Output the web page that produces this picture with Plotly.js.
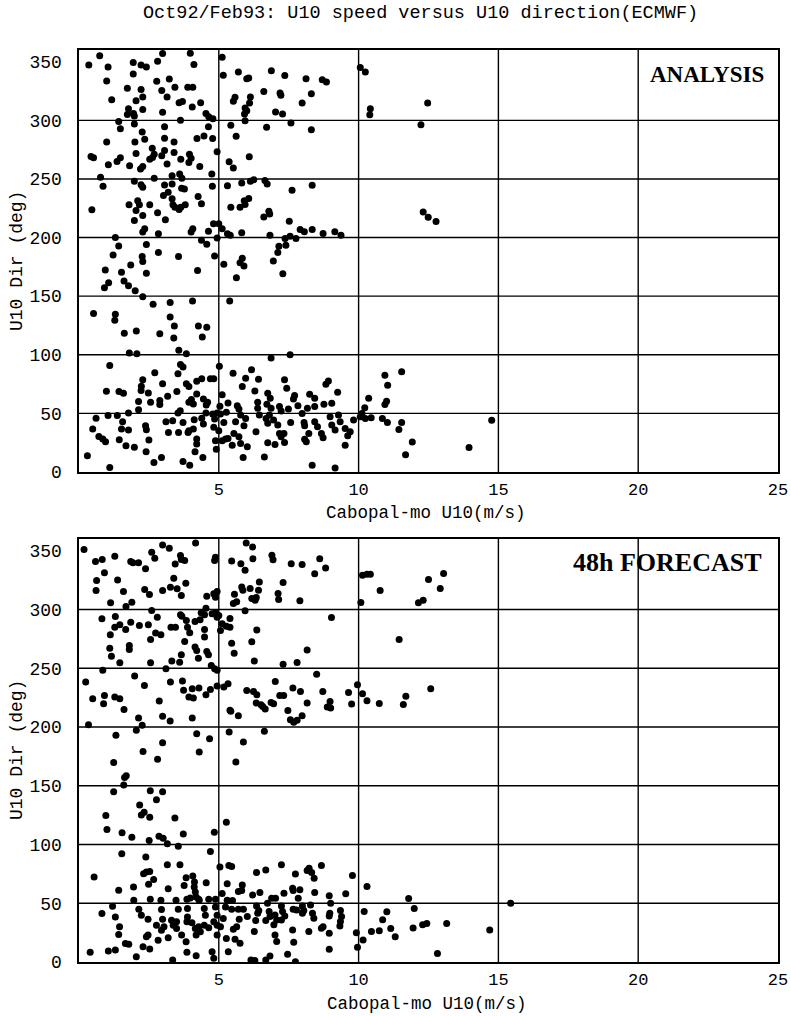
<!DOCTYPE html>
<html><head><meta charset="utf-8">
<script src="https://cdn.plot.ly/plotly-3.0.1.min.js"></script>
<style>html,body{margin:0;padding:0;background:#fff}#chart{width:791px;height:1016px}</style>
</head><body><div id="chart"></div>
<script>
// ANALYSIS panel: [U10 speed (m/s), U10 direction (deg)]
const analysisPoints = [
[.74,355],[2.99,357],[3.98,357.3],[5.12,353.9],[.35,347.1],[1.04,345.4],[1.94,349.4],[2.22,347.1],[2.41,345.4],[2.81,350.5],[4.11,347.7],[5.16,338.4],[1.94,339.5],[.99,333.6],[3.23,335.3],[2.78,333.3],[1.73,327.4],[2.22,326.2],[2.96,325.4],[3.43,328.2],[3.89,328.2],[4.07,328.2],[1.17,317.5],[2.04,316.6],[2.28,320],[3.15,320],[3.58,314.9],[3.70,316],[4.05,311.3],[4.35,314.9],[2.28,309.3],[1.77,309.8],[1.73,305],[1.95,305.9],[1.98,303.6],[2.99,307],[4.54,305.9],[4.64,303.1],[4.79,301.4],[3.63,300],[1.42,299.1],[1.48,292.9],[1.98,296.9],[2.26,290.1],[2.35,283.9],[.99,281.6],[2.0,281.6],[3.06,294.6],[3.06,284.7],[3.40,281.6],[4.47,286.7],[4.22,284.4],[4.78,284.4],[4.63,294.6],[5.43,295.7],[2.62,276.2],[2.69,271.1],[2.63,268.3],[2.96,269.7],[3.06,274.2],[3.40,272.5],[3.64,266.9],[3.95,271.1],[4.01,267.7],[4.94,273.1],[.43,269.2],[.52,268.1],[1.36,264.9],[1.48,268.1],[1.05,262.1],[1.81,261.3],[2.04,271.7],[2.28,260.7],[2.20,258.4],[2.53,266.9],[3.15,262.7],[3.93,264.1],[4.32,260.7],[5.37,264.6],[.77,251.4],[.86,243.7],[1.98,248],[2.22,245.1],[2.28,242.9],[2.69,250.5],[3.06,244.9],[3.33,252.8],[3.33,245.7],[3.60,254.2],[3.68,250.5],[3.67,242],[3.77,241.5],[4.75,254.2],[4.77,243.7],[5.31,244.3],[.46,223.7],[1.79,227.9],[2.10,231.3],[2.16,227.9],[2.04,223.1],[1.98,214.6],[2.28,218.9],[2.53,227.9],[2.81,221.1],[3.09,215.2],[3.02,235.8],[3.19,238.6],[3.33,233],[3.36,227.9],[3.43,225.9],[3.58,224],[3.64,225.9],[3.80,227.9],[4.26,235],[4.38,228.8],[5.43,225.9],[2.35,207.6],[2.28,204.8],[2.84,203.3],[4.07,207.6],[4.01,204.8],[4.63,205.3],[4.81,211.8],[5.0,211.8],[5.12,207.6],[5.31,203.3],[5.41,201.9],[1.30,200],[1.42,192.9],[2.41,194],[4.38,197.7],[4.57,194.3],[4.94,199.7],
[1.22,185.2],[2.26,183.8],[2.28,179.5],[2.84,187.2],[3.56,183.8],[4.85,184.3],[5.18,177.2],[.94,172.3],[1.52,170.3],[1.85,176.6],[2.41,169.5],[4.24,171.8],[1.06,161.5],[.91,157.2],[1.61,162.9],[1.77,158.9],[2.01,154.6],[2.28,149.5],[2.65,143.2],[3.26,144.6],[4.06,145.8],[5.39,145.8],[.52,135.2],[1.30,134.6],[1.28,129.5],[1.62,118.3],[2.05,120.3],[2.89,118],[3.26,132.3],[3.41,124.6],[3.39,114.3],[4.27,124.6],[4.57,123.5],[4.41,115.2],[3.57,103.8],[3.84,100.9],[1.80,101.5],[2.07,100.9],[1.10,90.9],[2.71,84.6],[3.63,91.8],[3.72,89.5],[3.54,83.8],[5.02,90.3],[2.28,78.6],[2.23,73.2],[2.22,69.5],[1.43,68.6],[1.59,67.2],[.98,68.9],[2.48,67.5],[2.99,75.2],[3.17,64.6],[3.50,68.6],[3.84,75.2],[3.93,72.9],[4.21,77.5],[4.39,79.5],[4.70,79.5],[4.82,79.5],[4.21,66.6],[4.02,61.8],[3.93,59.5],[4.09,58.1],[4.45,62.3],[4.60,59.5],[4.55,57.2],[2.13,60.1],[2.13,53.2],[2.56,59.5],[2.89,60.9],[2.89,57.5],[5.12,65.8],[5.33,58.9],[5.04,56.1],[5.27,50.9],[5.06,49.5],[1.77,50.3],[1.37,48.1],[1.04,48.1],[.61,45.8],[.49,36.6],[.71,30.3],[.85,28.1],[.95,25.8],[1.44,27.5],[1.52,36.6],[1.77,35.8],[1.56,42.9],[2.38,39.5],[2.41,36.1],[2.50,27.2],[1.68,22.3],[1.98,21.2],[3.11,42.9],[3.35,43.8],[3.54,50.3],[3.62,52.3],[3.72,42.3],[3.93,35.2],[3.90,33.8],[4.12,44.6],[4.09,36.6],[4.39,45.8],[4.45,40.9],[4.54,50.3],[4.78,49.5],[4.85,45.2],[4.82,38.1],[5.0,35.2],[5.12,26.6],[5.24,28.1],[5.33,28.6],[4.88,26.6],[4.91,19.5],[3.20,33.8],[3.56,33.8],[4.21,28.1],[4.21,23.8],[4.15,17.2],[.30,13.8],[1.10,3.8],[2.40,17.2],[2.68,8.0],[2.95,12.3],[3.72,8.9],[3.96,5.8],[4.43,12.3],[4.94,50.3],[5.18,42.3],
[5.70,341.2],[6.0,335.5],[6.07,336.1],[6.88,342.3],[7.36,338.3],[8.12,335.5],[8.70,334.6],[8.85,332.7],[10.06,345.1],[10.24,341.2],[5.58,319.6],[5.52,316.2],[6.13,319.9],[6.10,314.8],[6.61,324.7],[7.19,323.3],[7.22,321.3],[8.31,322.7],[7.98,314.8],[5.94,310.5],[6.0,308.2],[5.92,305.4],[7.03,307.1],[7.28,305.4],[10.42,309.9],[10.40,304.8],[5.94,299.7],[7.58,297.7],[5.62,286.4],[6.71,294],[8.31,292],[6.09,269],[5.52,259.4],[5.82,246.6],[6.13,248],[6.25,249.4],[6.65,248.6],[6.73,245.7],[7.62,240.3],[8.34,244.6],[5.94,228.1],[5.91,231.5],[6.07,233.3],[5.76,225.9],[6.61,217.6],[6.79,222.5],[6.82,220.2],[7.52,213.9],[7.91,206.8],[8.06,204.9],[8.34,206.8],[8.73,203.4],[9.15,204.9],[9.37,202],[5.82,204],[6.83,202],[7.37,199.2],[7.55,201.2],[7.76,199.2],[7.15,192.6],[7.40,193.5],
[5.84,182.3],[5.90,175.7],[5.76,178.6],[6.95,180],[7.11,187.2],[7.29,169.2],[5.63,165.7],[6.87,97.2],[7.55,100],[5.51,84.3],[6.17,87.2],[5.96,80],[6.42,79.2],[7.35,78.6],[5.84,72.9],[6.29,69.2],[6.75,67.2],[6.84,62.9],[7.43,71.5],[7.71,65.2],[7.67,62.3],[8.25,66.3],[8.43,62.9],[8.83,74.9],[8.92,77.7],[9.25,68],[10.36,62.9],[10.22,54.9],[5.66,56.6],[5.72,53.7],[5.78,48.6],[5.60,42.9],[5.96,45.7],[5.90,39.5],[6.39,59.5],[6.39,54.3],[6.45,48.6],[6.33,34.3],[5.54,32.9],[5.72,30],[5.78,24.3],[5.48,22.9],[6.02,21.5],[6.72,57.8],[6.87,54.3],[6.81,48.6],[7.17,55.8],[7.23,52],[7.49,53.7],[7.83,56.6],[8.17,54.3],[8.43,55.8],[8.76,57.8],[9.04,58.6],[6.69,45.7],[6.75,41.5],[6.96,44.3],[7.11,40],[7.17,32.9],[7.33,32.9],[7.23,30],[7.01,23.5],[6.75,24.9],[7.35,25.2],[7.57,42.3],[7.98,50],[8.05,42.3],[8.07,39.5],[8.22,32.9],[8.07,28],[8.13,25.8],[8.43,42.9],[8.53,38.6],[8.67,32.9],[8.73,29.2],[8.98,47.2],[9.04,40],[9.16,35.8],[9.28,48.6],[9.34,42.9],[9.52,37.2],[9.70,34.3],[9.61,30.9],[9.52,22.9],[9.82,44.3],[10.06,47.2],[10.12,50],[10.24,45.7],[10.45,46.3],[5.87,12.3],[6.63,12.9],[8.34,5.7],[9.16,3.5],
[12.47,314.8],[12.23,296.3],[12.31,221.7],[12.49,217.4],[12.77,213.7],[10.94,82.6],[11.54,85.5],[11.04,74.1],[11.0,60.4],[10.94,57.6],[10.85,45.6],[11.03,42.2],[11.54,42.2],[11.44,36.2],[11.92,25.6],[11.68,14.8],[13.95,20.8],[14.76,44.2]
];

// 48h FORECAST panel: [U10 speed (m/s), U10 direction (deg)]
const forecastPoints = [
[.18,351],[.59,340.8],[.83,342.5],[1.28,345.3],[1.85,340.8],[1.93,339.7],[2.13,339.7],[2.38,334.6],[2.60,348.7],[2.71,343.6],[2.99,355],[3.23,352.1],[3.63,345.9],[3.66,342.5],[3.44,338.8],[3.78,341.6],[4.17,356.7],[4.88,344.5],[4.85,341.6],[.91,331.2],[.63,324.7],[.61,316.1],[1.38,325.2],[1.59,315.3],[2.35,317],[2.52,312.8],[2.99,316.2],[3.27,319],[3.51,317.6],[3.66,311.9],[3.82,322.4],[3.39,326.6],[4.57,311.3],[4.82,313.3],[4.94,315.3],[4.88,310.5],[1.13,305.7],[1.89,306.2],[1.68,302.6],[2.60,299.2],[2.80,293.5],[3.63,295.5],[3.68,294.3],[3.84,290.7],[4.15,289.8],[4.33,291.2],[4.37,297.2],[4.54,301.1],[4.49,295.5],[4.76,296.3],[4.88,297.2],[4.94,293.5],[5.0,294.9],[5.12,287.8],[5.27,285.8],[5.40,285],[5.06,282.2],[.82,292.1],[1.30,294.1],[1.28,285],[1.46,287],[1.67,283],[1.85,289.2],[2.16,286.4],[2.48,287],[1.12,278.5],[2.74,279.9],[2.93,278.5],[3.29,285],[3.45,285],[3.88,285],[3.96,280.2],[4.49,283],[4.49,276.5],[2.56,274.5],[3.78,272.8],[1.10,267.1],[1.80,269.4],[1.80,266],[1.16,260.3],[1.46,254.7],[2.56,254.7],[3.66,261.5],[3.60,255.2],[3.32,256.1],[4.15,268],[4.21,265.2],[4.57,264.3],[4.63,261.5],[4.27,258.6],[4.73,252.4],[4.85,249.6],[4.94,248.2],[.85,248.2],[1.99,243.4],[3.11,249.6],[.24,238.2],[.49,224.1],[.91,226.9],[.88,219.8],[1.28,225.5],[1.46,224.1],[1.61,215],[2.34,235.4],[2.87,222.1],[2.99,209.1],[3.26,205.1],[3.27,238.2],[3.70,239.1],[3.74,231.2],[4.05,232.6],[4.09,224.6],[3.93,225.5],[4.29,233.2],[4.54,227.5],[4.70,232],[4.94,234.8],[5.18,234],[5.33,236.8],[5.40,214.2],[2.13,207.6],[2.26,201.4],[.34,202],[1.32,192.9],[2.05,197.2],[2.99,186.7],[4.21,194.3],[4.67,190.1],[5.37,195.8],[4.05,207.6],
[2.29,179.1],[1.24,169.8],[2.81,172.6],[4.30,178.8],[1.63,157.1],[1.69,158.5],[1.60,150.6],[1.24,144.9],[2.55,145.8],[2.99,144.9],[2.77,138.1],[2.17,133.6],[2.33,127.4],[2.23,125.1],[2.53,123.2],[.96,124.6],[3.43,122.6],[5.27,118.9],[1.0,112.7],[1.54,109.9],[1.89,106.2],[2.51,103.4],[2.86,107.1],[3.01,105.4],[3.16,100.6],[3.55,98.6],[3.73,109],[4.84,110.5],[1.53,92.1],[2.39,89.3],[.54,72.3],[1.42,61],[1.95,63.8],[2.31,75.1],[2.41,76.6],[2.53,77.1],[2.67,70.3],[2.49,66.1],[3.16,82.8],[3.61,82.8],[3.19,62.4],[3.76,65.2],[3.83,71.7],[4.07,73.2],[4.13,68.1],[4.12,63.8],[4.16,59.6],[4.19,55.3],[3.98,54.5],[4.28,53.4],[4.55,67.5],[4.70,94.1],[5.04,80.8],[5.12,58.2],[5.30,66.7],[5.36,82.2],[1.96,52.5],[2.55,53.4],[2.93,52.5],[3.47,52.5],[3.86,53.4],[4.30,52.5],[4.64,53.4],[4.88,53.4],[5.30,52.5],[.82,41.2],[1.20,47.5],[1.30,38.4],[1.45,29.9],[1.42,23.4],[1.66,15.8],[1.78,15.2],[2.14,44.9],[2.23,39.8],[2.47,36.4],[2.77,31.3],[2.95,27.1],[2.99,36.4],[2.95,44.6],[3.04,29.9],[3.31,35.6],[3.37,31.3],[3.49,34.2],[3.55,44.9],[3.49,28.5],[3.88,45.5],[3.88,38.4],[3.86,34.2],[4.04,33.3],[4.16,28.5],[4.19,22.9],[4.28,29.9],[4.34,25.7],[4.48,45.5],[4.52,39.8],[4.48,31.3],[4.64,29.1],[4.82,34.2],[4.88,46.9],[4.94,39.8],[4.94,31.3],[5.06,29.9],[4.94,22.9],[5.16,37],[5.24,46.9],[5.27,20.1],[3.19,20.6],[3.67,22.9],[3.83,17.2],[2.83,18.6],[2.41,21.5],[2.47,22.9],[2.29,13],[2.53,11],[.40,8.2],[1.05,9.3],[1.30,10.2],[2.05,4.5],[3.35,1.7],[3.86,8.2],[4.19,5.4],[4.76,8.7],[4.82,3.1],[5.34,8.7],
[5.98,356.5],[6.21,353.1],[5.46,341.3],[5.79,339],[5.94,333.4],[6.22,343.2],[6.90,346.1],[6.94,342.4],[7.59,339],[7.98,338.4],[8.61,343.2],[8.82,335.3],[8.43,330.5],[7.30,322.9],[6.45,323.5],[6.42,316.4],[6.12,317.8],[5.82,319.2],[5.86,316.4],[5.56,313],[6.18,309.3],[6.30,307.9],[6.34,310.2],[5.64,306.5],[5.52,305.1],[5.94,298.9],[7.12,313.6],[7.14,308.5],[7.90,307.4],[10.14,329.1],[10.30,330],[10.42,330],[10.08,305.9],[9.03,293.2],[5.40,292.4],[6.36,282.5],[6.18,272.6],[5.46,271.2],[5.55,262.7],[8.16,265.5],[6.27,256.2],[7.30,253.4],[7.80,254.8],[8.50,244.9],[7.02,238.7],[6.0,231.1],[6.24,230.2],[6.36,227.4],[6.34,220.4],[6.51,218.9],[6.57,217.5],[6.66,215.3],[6.87,220.9],[6.96,219.8],[7.18,226.9],[7.32,226.9],[7.65,233.1],[7.92,230.2],[7.47,214.1],[8.16,220.4],[8.72,230.2],[8.98,221.8],[8.88,217],[9.0,216.1],[9.64,229.4],[9.75,219.5],[9.96,235.9],[10.14,228.3],[10.30,222.3],[5.43,213.3],[5.70,209.6],[6.63,196.3],[5.88,187.3],[7.56,206.2],[7.68,204],[7.80,205.7],[7.98,209.6],
[5.61,170.2],[5.46,81.3],[6.35,76.1],[6.68,78.4],[7.24,82.7],[7.74,75],[8.16,77.9],[8.23,79.8],[8.32,76.1],[8.41,71.3],[8.67,82.1],[9.78,73.6],[10.30,64.2],[5.84,65.6],[5.82,60.8],[5.70,60],[6.21,57.1],[6.47,59.1],[6.89,54.3],[7.03,54.3],[7.33,58.5],[7.64,62.8],[7.66,60.8],[7.90,61.4],[7.84,54.3],[8.43,59.1],[8.95,56.3],[9.54,58],[5.49,52.3],[5.46,44.9],[5.70,44.9],[5.88,44.9],[6.35,47.7],[6.39,41.5],[6.43,43.8],[6.74,50],[6.80,42.9],[6.83,38.7],[7.01,40.1],[7.07,35.8],[7.24,47.7],[7.28,42.9],[7.24,35.8],[7.36,39.2],[7.66,44.9],[7.78,44.3],[7.99,47.7],[8.04,43.8],[8.28,48.6],[8.35,41.5],[8.40,37.2],[7.99,41.5],[9.0,50],[8.97,41.5],[8.95,39.2],[9.35,43.8],[9.39,38.7],[9.35,34.4],[9.33,30.7],[8.73,30.1],[8.67,28.7],[10.20,42.9],[10.46,25.9],[10.16,18.8],[9.92,25],[6.02,38.7],[6.32,35.3],[6.68,35.3],[6.97,31.6],[5.73,36.4],[5.64,30.1],[5.52,27.9],[5.58,19.3],[5.76,16],[6.27,25.9],[7.01,23],[7.07,17.4],[7.64,27.3],[7.68,16.8],[8.22,25.9],[8.95,24.5],[8.95,10.8],[7.46,6.6],[6.83,5.1],[6.15,1.7],[6.29,1.2],[6.68,1.7],[7.74,.3],[9.96,12.5],
[10.77,316.1],[11.45,274.5],[12.14,305.7],[12.31,307.9],[12.50,325.5],[12.92,317.8],[13.04,330.6],[10.74,220.1],[11.60,219.2],[11.69,226.1],[12.58,232.6],[11.79,54.1],[11.99,45.6],[11.01,42.7],[10.86,36],[10.74,26.6],[11.15,28.6],[11.31,21.5],[11.95,28.9],[12.29,31.7],[12.44,32.8],[13.15,32.8],[12.82,7.3],[14.69,27.2],[15.44,50.1]
];

const speedTicks = [5, 10, 15, 20, 25];
const dirTicks = [0, 50, 100, 150, 200, 250, 300, 350];
const speedGrid = [5, 10, 15, 20];
const dirGrid = [50, 100, 150, 200, 250, 300];
const panelLabels = ['ANALYSIS', '48h FORECAST'];
const chartTitle = 'Oct92/Feb93: U10 speed versus U10 direction(ECMWF)';
const xTitle = 'Cabopal-mo U10(m/s)';
const yTitle = 'U10 Dir (deg)';

const W = 791, H = 1016;
const mono = 'Liberation Mono, Courier New, monospace';
const serif = 'Liberation Serif, Times New Roman, serif';
const xDom = [79 / W, 778 / W];
const topDom = [1 - 472 / H, 1 - 50 / H];
const botDom = [1 - 962 / H, 1 - 539 / H];

function trace(pts, xa, ya) {
  return {
    type: 'scatter', mode: 'markers',
    x: pts.map(p => p[0]), y: pts.map(p => p[1]),
    xaxis: xa, yaxis: ya,
    marker: {color: '#000', size: 7, line: {width: 0}},
    hoverinfo: 'x+y', showlegend: false
  };
}

function xAxis(dom, anchor) {
  return {domain: dom, anchor: anchor, range: [0, 25], tickvals: speedTicks,
    ticktext: speedTicks.map(String), showgrid: false, zeroline: false,
    showline: true, mirror: true, linecolor: '#000', linewidth: 1.6,
    ticks: 'outside', ticklen: 1, tickcolor: 'rgba(0,0,0,0)',
    tickfont: {family: mono, size: 17, color: '#000'}};
}
function yAxis(dom, anchor) {
  return {domain: dom, anchor: anchor, range: [0, 360], tickvals: dirTicks,
    showgrid: false, zeroline: false,
    showline: true, mirror: true, linecolor: '#000', linewidth: 1.6,
    ticks: 'outside', ticklen: 12, tickcolor: 'rgba(0,0,0,0)',
    tickfont: {family: mono, size: 18, color: '#000'}};
}

const shapes = [];
[['x', 'y'], ['x2', 'y2']].forEach(([xr, yr]) => {
  speedGrid.forEach(v => shapes.push({type: 'line', xref: xr, yref: yr, x0: v, x1: v, y0: 0, y1: 360, line: {color: '#000', width: 1.4}, layer: 'below'}));
  dirGrid.forEach(v => shapes.push({type: 'line', xref: xr, yref: yr, x0: 0, x1: 25, y0: v, y1: v, line: {color: '#000', width: 1.4}, layer: 'below'}));
});

const annotations = [
  {text: chartTitle, xref: 'paper', yref: 'paper', x: 420 / W, y: 1 - 14 / H, xanchor: 'center', yanchor: 'middle', showarrow: false, font: {family: mono, size: 18.5, color: '#000'}},
  {text: xTitle, xref: 'paper', yref: 'paper', x: 426 / W, y: 1 - 513 / H, xanchor: 'center', yanchor: 'middle', showarrow: false, font: {family: mono, size: 17.5, color: '#000'}},
  {text: xTitle, xref: 'paper', yref: 'paper', x: 427 / W, y: 1 - 1004 / H, xanchor: 'center', yanchor: 'middle', showarrow: false, font: {family: mono, size: 17.5, color: '#000'}},
  {text: yTitle, xref: 'paper', yref: 'paper', x: 17 / W, y: 1 - 261 / H, xanchor: 'center', yanchor: 'middle', textangle: -90, showarrow: false, font: {family: mono, size: 18, color: '#000'}},
  {text: yTitle, xref: 'paper', yref: 'paper', x: 17 / W, y: 1 - 750 / H, xanchor: 'center', yanchor: 'middle', textangle: -90, showarrow: false, font: {family: mono, size: 18, color: '#000'}},
  {text: '<b>' + panelLabels[0] + '</b>', xref: 'paper', yref: 'paper', x: 766 / W, y: 1 - 75 / H, xanchor: 'right', yanchor: 'middle', showarrow: false, font: {family: serif, size: 23, color: '#000'}},
  {text: '<b>' + panelLabels[1] + '</b>', xref: 'paper', yref: 'paper', x: 764 / W, y: 1 - 562 / H, xanchor: 'right', yanchor: 'middle', showarrow: false, font: {family: serif, size: 26, color: '#000'}}
];

const layout = {
  width: W, height: H, margin: {l: 0, r: 0, t: 0, b: 0},
  paper_bgcolor: '#fff', plot_bgcolor: '#fff',
  xaxis: xAxis(xDom, 'y'), yaxis: yAxis(topDom, 'x'),
  xaxis2: xAxis(xDom, 'y2'), yaxis2: yAxis(botDom, 'x2'),
  shapes: shapes, annotations: annotations, showlegend: false
};

Plotly.newPlot('chart', [trace(analysisPoints, 'x', 'y'), trace(forecastPoints, 'x2', 'y2')], layout, {displayModeBar: false, staticPlot: true});
</script></body></html>
